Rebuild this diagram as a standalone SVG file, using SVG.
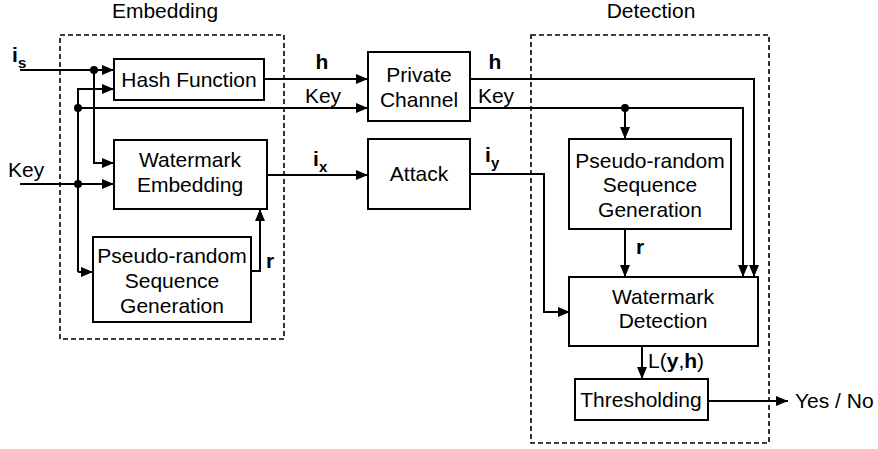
<svg xmlns="http://www.w3.org/2000/svg" width="878" height="449" viewBox="0 0 878 449">
  <style>
    .box { fill: #fff; stroke: #000; stroke-width: 2; }
    .region { fill: none; stroke: #000; stroke-width: 1.6; stroke-dasharray: 5 3; }
    .wire { fill: none; stroke: #000; stroke-width: 2; }
    .arr { marker-end: url(#head); }
    text { font-family: "Liberation Sans", Arial, sans-serif; font-size: 21px; fill: #000; }
    .c { text-anchor: middle; }
    .b { font-weight: bold; }
    .sub { font-size: 15px; font-weight: bold; }
  </style>
  <defs>
    <marker id="head" markerUnits="userSpaceOnUse" markerWidth="14" markerHeight="12" refX="12" refY="6" orient="auto">
      <path d="M0,1 L12,6 L0,11 Z" fill="#000"/>
    </marker>
  </defs>
  <rect width="878" height="449" fill="#fff"/>

  <!-- region frames -->
  <g id="embedding-region">
    <rect class="region" x="60" y="35" width="224" height="304"/>
    <text class="c" x="165" y="18">Embedding</text>
  </g>
  <g id="detection-region">
    <rect class="region" x="531" y="35" width="238" height="408"/>
    <text class="c" x="651" y="18">Detection</text>
  </g>

  <!-- connectors -->
  <g id="connectors">
    <!-- i_s into hash -->
    <path class="wire arr" d="M20,70 H114"/>
    <!-- i_s branch down to watermark embedding -->
    <path class="wire arr" d="M94,70 V163 H114"/>
    <!-- key bus -->
    <path class="wire arr" d="M20,184 H114"/>
    <path class="wire arr" d="M78,272 V89 H114"/>
    <path class="wire arr" d="M78,272 H93"/>
    <path class="wire arr" d="M78,108 H368"/>
    <!-- r into watermark embedding -->
    <path class="wire arr" d="M251,271 H260 V209"/>
    <!-- h -->
    <path class="wire arr" d="M264,79 H368"/>
    <!-- i_x -->
    <path class="wire arr" d="M267,175 H368"/>
    <!-- private channel outputs -->
    <path class="wire arr" d="M470,79 H754 V277"/>
    <path class="wire arr" d="M470,108 H743 V277"/>
    <path class="wire arr" d="M625,108 V139"/>
    <!-- r in detection -->
    <path class="wire arr" d="M625,229 V277"/>
    <!-- i_y -->
    <path class="wire arr" d="M470,174 H544 V312 H570"/>
    <!-- L(y,h) -->
    <path class="wire arr" d="M642,346 V379"/>
    <!-- decision -->
    <path class="wire arr" d="M708,401 H788"/>
    <!-- junction dots -->
    <circle cx="94" cy="70" r="4"/>
    <circle cx="78" cy="108" r="4"/>
    <circle cx="78" cy="184" r="4"/>
    <circle cx="625" cy="108" r="4"/>
  </g>

  <!-- connector labels -->
  <g id="labels">
    <text class="b" x="12" y="62">i</text><text class="sub" x="18" y="68">s</text>
    <text x="8" y="177">Key</text>
    <text class="b" x="266" y="268">r</text>
    <text class="b c" x="322" y="69">h</text>
    <text class="c" x="323" y="103">Key</text>
    <text class="b" x="313" y="166">i</text><text class="sub" x="319" y="172">x</text>
    <text class="b c" x="495" y="69">h</text>
    <text class="c" x="496" y="103">Key</text>
    <text class="b" x="485" y="162">i</text><text class="sub" x="491" y="168">y</text>
    <text class="b" x="636" y="254">r</text>
    <text x="648" y="368">L(<tspan class="b">y</tspan>,<tspan class="b">h</tspan>)</text>
    <text x="795" y="408">Yes / No</text>
  </g>

  <!-- nodes -->
  <g id="hash-function">
    <rect class="box" x="114" y="59" width="150" height="41"/>
    <text class="c" x="189" y="87">Hash Function</text>
  </g>
  <g id="watermark-embedding">
    <rect class="box" x="114" y="140" width="153" height="69"/>
    <text class="c" x="190" y="167">Watermark</text>
    <text class="c" x="190" y="192">Embedding</text>
  </g>
  <g id="prs-embedding">
    <rect class="box" x="93" y="237" width="158" height="85"/>
    <text class="c" x="172" y="263">Pseudo-random</text>
    <text class="c" x="172" y="288">Sequence</text>
    <text class="c" x="172" y="313">Generation</text>
  </g>
  <g id="private-channel">
    <rect class="box" x="368" y="52" width="102" height="69"/>
    <text class="c" x="419" y="82">Private</text>
    <text class="c" x="419" y="107">Channel</text>
  </g>
  <g id="attack">
    <rect class="box" x="368" y="139" width="102" height="70"/>
    <text class="c" x="419" y="181">Attack</text>
  </g>
  <g id="prs-detection">
    <rect class="box" x="569" y="139" width="162" height="90"/>
    <text class="c" x="650" y="168">Pseudo-random</text>
    <text class="c" x="650" y="192">Sequence</text>
    <text class="c" x="650" y="217">Generation</text>
  </g>
  <g id="watermark-detection">
    <rect class="box" x="569" y="277" width="189" height="69"/>
    <text class="c" x="663" y="304">Watermark</text>
    <text class="c" x="663" y="328">Detection</text>
  </g>
  <g id="thresholding">
    <rect class="box" x="575" y="379" width="133" height="41"/>
    <text class="c" x="641" y="407">Thresholding</text>
  </g>
</svg>
